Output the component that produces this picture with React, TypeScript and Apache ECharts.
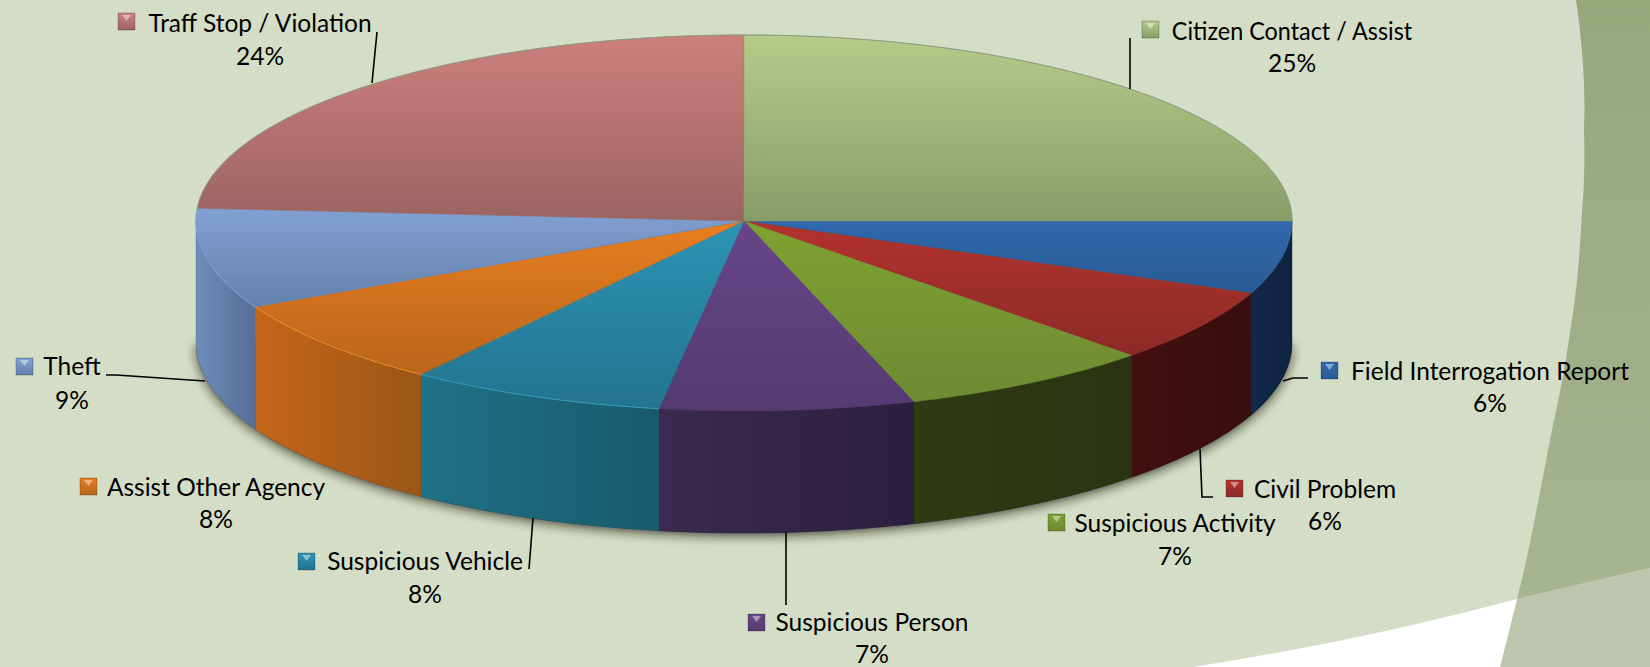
import React, { useEffect, useRef } from "react";
import * as echarts from "echarts";

const categories = [
  "Field Interrogation Report",
  "Civil Problem",
  "Suspicious Activity",
  "Suspicious Person",
  "Suspicious Vehicle",
  "Assist Other Agency",
  "Theft",
  "Traff Stop / Violation",
  "Citizen Contact / Assist",
];
const shares = [6.2, 6.3, 7.49, 7.49, 7.55, 7.5, 8.57, 23.9, 25.0];
const percentLabels = ["6%", "6%", "7%", "7%", "8%", "8%", "9%", "24%", "25%"];

const topColors = [
  ["#3068ae", "#2a5b93"],
  ["#b2332e", "#8c2a27"],
  ["#7fa231", "#6e8a33"],
  ["#684689", "#553a72"],
  ["#2d94b4", "#23748f"],
  ["#e87e20", "#b9661a"],
  ["#82a0d2", "#6480ac"],
  ["#cc807c", "#9b6461"],
  ["#b6cb89", "#889c68"],
];
const wallColors = [
  ["#12294c", "#0e2240"],
  ["#430f0f", "#380e0e"],
  ["#2f3b12", "#2a3412"],
  ["#3c2a50", "#2a1f3e"],
  ["#1f7288", "#195a6c"],
  ["#c4661a", "#9b5617"],
  ["#6f8cbc", "#576e96"],
  ["#000000", "#000000"],
  ["#000000", "#000000"],
];
const rimColors = [null, null, null, null, "#37a0bc", "#f28c2c", "#86a4d6", "#8f9c86", "#8f9c86"];

// layout: key box corner, name centre, percent centre, leader line
const keyPos = [[1321, 362], [1226, 480], [1048, 514], [748, 614], [298, 553], [80, 478], [16, 358], [118, 13], [1142, 21]];
const namePos = [[1490, 370], [1325, 488], [1175, 522], [872, 621], [425, 560], [216, 486], [72, 365], [260, 22], [1292, 30]];
const pctPos = [[1490, 402], [1325, 520], [1175, 555], [872, 653], [425, 593], [216, 518], [72, 399], [260, 55], [1292, 62]];
const nameScaleX = [1, 1, 1, 1, 1, 1, 1, 1, 0.955];
const leaders = [
  [[1283, 381], [1293, 378], [1308, 378]],
  [[1200, 449], [1202, 497], [1213, 497]],
  null,
  [[786, 532], [786, 605]],
  [[533, 518], [529, 569]],
  null,
  [[106, 375], [116, 375], [205, 381]],
  [[377, 32], [372, 83]],
  [[1130, 38], [1130, 89]],
];

const CX = 744;
const CY = 221;
const RX = 548;
const RY_BACK = 186;
const RY_FRONT = 190;
const DEPTH = 122;
const FONT = "Lato, Carlito, 'Open Sans', sans-serif";
const FONT_SIZE = 24.5;

const total = shares.reduce((a, b) => a + b, 0);
const starts: number[] = [];
shares.reduce((acc, v, i) => {
  starts[i] = acc;
  return acc + v;
}, 0);

function pt(deg: number, dy = 0): number[] {
  const r = (deg * Math.PI) / 180;
  const s = Math.sin(r);
  return [CX + RX * Math.cos(r), CY + (s > 0 ? RY_FRONT : RY_BACK) * s + dy];
}
function arc(a: number, b: number, dy = 0): number[][] {
  const pts: number[][] = [];
  const n = Math.max(2, Math.ceil(Math.abs(b - a) * 2));
  for (let k = 0; k <= n; k++) pts.push(pt(a + ((b - a) * k) / n, dy));
  return pts;
}
function vGrad(c: string[]) {
  return new echarts.graphic.LinearGradient(0, 0, 0, 1, [
    { offset: 0, color: c[0] },
    { offset: 1, color: c[1] },
  ]);
}
function hGrad(c: string[]) {
  return new echarts.graphic.LinearGradient(0, 0, 1, 0, [
    { offset: 0, color: c[0] },
    { offset: 1, color: c[1] },
  ]);
}

function renderItem(params: any, api: any) {
  const i = params.dataIndex;
  const v = api.value(0);
  const a = (starts[i] / total) * 360;
  const b = a + (v / total) * 360;
  const children: any[] = [];

  if (i === 0) {
    children.push({
      type: "polygon",
      shape: { points: arc(0, 180, DEPTH) },
      style: {
        fill: "#333",
        shadowColor: "rgba(30,30,20,0.75)",
        shadowBlur: 11,
        shadowOffsetX: 0,
        shadowOffsetY: 3,
      },
    });
  }
  // front wall
  const wa = Math.max(a, 0);
  const wb = Math.min(b, 180);
  if (wb > wa) {
    children.push({
      type: "polygon",
      shape: { points: [...arc(wa, wb), ...arc(wb, wa, DEPTH)] },
      style: { fill: hGrad(wallColors[i]), stroke: wallColors[i][1], lineWidth: 0.4 },
    });
  }
  // top face
  children.push({
    type: "polygon",
    shape: { points: [[CX, CY], ...arc(a, b)] },
    style: { fill: vGrad(topColors[i]), stroke: topColors[i][1], lineWidth: 0.5 },
  });
  if (rimColors[i]) {
    children.push({
      type: "polyline",
      shape: { points: arc(a, b) },
      style: { fill: "none", stroke: rimColors[i], lineWidth: 1 },
    });
  }
  // leader line
  if (leaders[i]) {
    children.push({
      type: "polyline",
      shape: { points: leaders[i] },
      style: { fill: "none", stroke: "#000", lineWidth: 1.6 },
    });
  }
  // legend key
  const [kx, ky] = keyPos[i];
  children.push({
    type: "rect",
    shape: { x: kx, y: ky, width: 17, height: 17 },
    style: { fill: vGrad(topColors[i]), stroke: "rgba(0,0,0,0.22)", lineWidth: 1 },
  });
  children.push({
    type: "polygon",
    shape: { points: [[kx + 4, ky + 2], [kx + 13, ky + 2], [kx + 8.5, ky + 8]] },
    style: { fill: "rgba(255,255,255,0.45)" },
  });
  // labels
  children.push({
    type: "text",
    x: namePos[i][0],
    y: namePos[i][1],
    scaleX: nameScaleX[i],
    style: {
      text: categories[i],
      fill: "#000",
      font: `${FONT_SIZE}px ${FONT}`,
      align: "center",
      verticalAlign: "middle",
    },
  });
  children.push({
    type: "text",
    x: pctPos[i][0],
    y: pctPos[i][1],
    style: {
      text: percentLabels[i],
      fill: "#000",
      font: `${FONT_SIZE}px ${FONT}`,
      align: "center",
      verticalAlign: "middle",
    },
  });
  return { type: "group", children };
}

const DARK_BAND =
  "M1576 0 C1582 40 1586 90 1584 128 C1585 160 1584 190 1582 213 C1580 250 1577 290 1572 319 C1567 355 1560 395 1553 425 C1540 490 1530 550 1517 599 L1650 568 L1650 0 Z";
const LOWER_BAND = "M1517 599 L1650 568 L1650 667 L1500 667 Z";
const WHITE_BAND = "M1517 599 C1400 630 1300 650 1193 667 L1500 667 Z";
const GLOW_BAND =
  "M1563 0 C1572 60 1574 160 1573 213 C1572 260 1570 300 1565 345 L1572 319 C1577 290 1580 250 1582 213 C1584 190 1585 160 1584 128 C1586 90 1582 40 1576 0 Z";

echarts.graphic.registerShape("darkBand", echarts.graphic.extendPath(DARK_BAND, {}) as any);
echarts.graphic.registerShape("lowerBand", echarts.graphic.extendPath(LOWER_BAND, {}) as any);
echarts.graphic.registerShape("whiteBand", echarts.graphic.extendPath(WHITE_BAND, {}) as any);
echarts.graphic.registerShape("glowBand", echarts.graphic.extendPath(GLOW_BAND, {}) as any);

export default function App() {
  const ref = useRef<HTMLDivElement>(null);
  useEffect(() => {
    document.body.style.margin = "0";
    const chart = echarts.init(ref.current!, null, { renderer: "svg" });
    chart.setOption({
      animation: false,
      backgroundColor: "#d4ddc5",
      graphic: {
        elements: [
          { type: "glowBand", x: 0, y: 0, silent: true, style: { fill: "#d5dcc9" } },
          {
            type: "darkBand",
            x: 0,
            y: 0,
            silent: true,
            style: {
              fill: new echarts.graphic.LinearGradient(0, 0, 0, 1, [
                { offset: 0, color: "#96a77c" },
                { offset: 1, color: "#a7b491" },
              ]),
            },
          },
          { type: "lowerBand", x: 0, y: 0, silent: true, style: { fill: "#bdc7ae" } },
          { type: "whiteBand", x: 0, y: 0, silent: true, style: { fill: "#ffffff" } },
        ],
      },
      series: [
        {
          type: "custom",
          coordinateSystem: "none",
          silent: true,
          clip: false,
          renderItem,
          data: shares.map((v) => [v]),
        },
      ],
    });
    return () => chart.dispose();
  }, []);
  return <div ref={ref} style={{ position: "absolute", left: 0, top: 0, width: 1650, height: 667 }} />;
}
